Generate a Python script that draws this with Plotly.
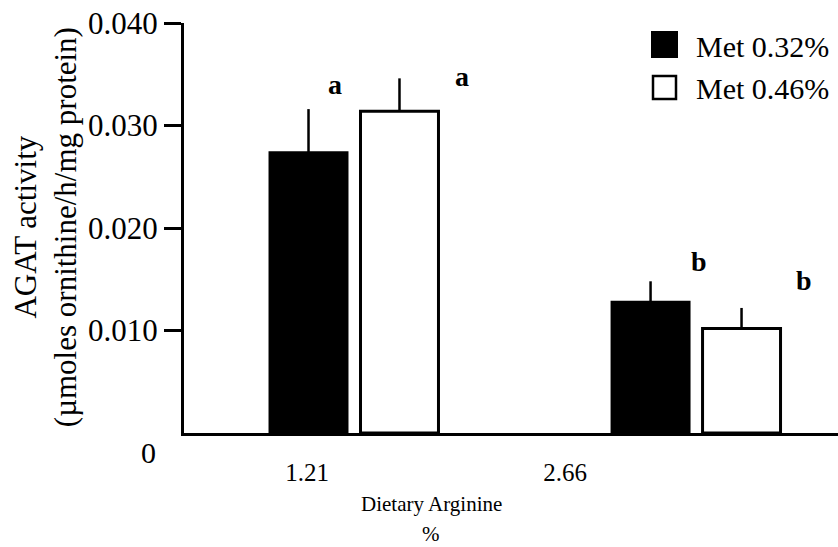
import plotly.graph_objects as go

categories = ["1.21", "2.66"]
cat_pos = [0, 1]
series_names = ["Met 0.32%", "Met 0.46%"]
met032 = [0.0274, 0.0128]
met032_err = [0.0042, 0.0020]
met046 = [0.0314, 0.0102]
met046_err = [0.0032, 0.0020]
sig_letters_032 = ["a", "b"]
sig_letters_046 = ["a", "b"]
y_ticks = [0.010, 0.020, 0.030, 0.040]
y_ticktext = ["0.010", "0.020", "0.030", "0.040"]

FONT = "Liberation Serif, Times New Roman, serif"

fig = go.Figure()
fig.add_trace(go.Bar(
    x=cat_pos, y=met032, name=series_names[0], showlegend=False,
    marker=dict(color="black", line=dict(color="black", width=2)),
    error_y=dict(type="data", array=met032_err, arrayminus=[0, 0], symmetric=False,
                 color="black", thickness=2.5, width=0),
))
fig.add_trace(go.Bar(
    x=cat_pos, y=met046, name=series_names[1], showlegend=False,
    marker=dict(color="white", line=dict(color="black", width=3)),
    error_y=dict(type="data", array=met046_err, arrayminus=[0, 0], symmetric=False,
                 color="black", thickness=2.5, width=0),
))

# significance letters
letter_font = dict(family=FONT, size=28, color="black")
for i, p in enumerate(cat_pos):
    fig.add_annotation(x=p - 0.056 + (0.065 if i == 1 else 0), y=met032[i] + met032_err[i] + (0.0024 if i == 0 else 0.0019),
                       text="<b>%s</b>" % sig_letters_032[i], showarrow=False, font=letter_font)
for i, p in enumerate(cat_pos):
    fig.add_annotation(x=p + 0.316, y=met046[i] + met046_err[i] + (0.0002 if i == 0 else 0.0027),
                       text="<b>%s</b>" % sig_letters_046[i], showarrow=False, font=letter_font)

# manual legend
leg_font = dict(family=FONT, size=30, color="black")
fig.add_shape(type="rect", xref="paper", yref="paper", x0=(652-184)/654, x1=(677-184)/654,
              y0=(433-57)/410, y1=(433-32)/410, fillcolor="black", line=dict(color="black", width=2))
fig.add_shape(type="rect", xref="paper", yref="paper", x0=(653-184)/654, x1=(676-184)/654,
              y0=(433-99)/410, y1=(433-76)/410, fillcolor="white", line=dict(color="black", width=2.5))
fig.add_annotation(xref="paper", yref="paper", x=(694-184)/654, y=(433-46)/410, xanchor="left",
                   yanchor="middle", text=series_names[0], showarrow=False, font=leg_font)
fig.add_annotation(xref="paper", yref="paper", x=(694-184)/654, y=(433-88)/410, xanchor="left",
                   yanchor="middle", text=series_names[1], showarrow=False, font=leg_font)

# y title
fig.add_annotation(xref="paper", yref="paper", x=(45-184)/654, y=0.502, textangle=-90,
                   text="AGAT activity<br>(µmoles ornithine/h/mg protein)", showarrow=False,
                   font=dict(family=FONT, size=31, color="black"), xanchor="center", yanchor="middle")
# "0" label
fig.add_annotation(xref="paper", yref="y", x=(158-184)/654, y=0, yshift=-19, xanchor="right",
                   text="0", showarrow=False, font=dict(family=FONT, size=30, color="black"))
# x title
fig.add_annotation(xref="paper", yref="paper", x=(431-184)/654, y=(433-504)/410, text="Dietary Arginine",
                   showarrow=False, font=dict(family=FONT, size=21, color="black"), yanchor="middle")
fig.add_annotation(xref="paper", yref="paper", x=(431-184)/654, y=(433-534)/410, text="%",
                   showarrow=False, font=dict(family=FONT, size=21, color="black"), yanchor="middle")

fig.update_layout(
    width=838, height=547,
    margin=dict(l=184, r=0, t=23, b=114),
    paper_bgcolor="white", plot_bgcolor="white",
    barmode="group", bargap=0.468, bargroupgap=0.143,
    showlegend=False,
    font=dict(family=FONT, color="black"),
)
fig.update_xaxes(
    range=[-0.497, 1.415], tickvals=[-0.137, 0.617], ticktext=categories,
    showline=True, linecolor="black", linewidth=3, ticks="", showgrid=False, zeroline=False,
    tickfont=dict(family=FONT, size=25, color="black"), ticklabelstandoff=15,
)
fig.update_yaxes(
    range=[0, 0.040], tickvals=y_ticks, ticktext=y_ticktext,
    showline=True, linecolor="black", linewidth=3, ticks="outside", ticklen=17, tickwidth=3,
    tickcolor="black", showgrid=False, zeroline=False,
    tickfont=dict(family=FONT, size=31, color="black"),
)

fig.write_html("out.html", config={"displayModeBar": False},
               post_script="document.body.style.margin='0';document.body.style.overflow='hidden';")
